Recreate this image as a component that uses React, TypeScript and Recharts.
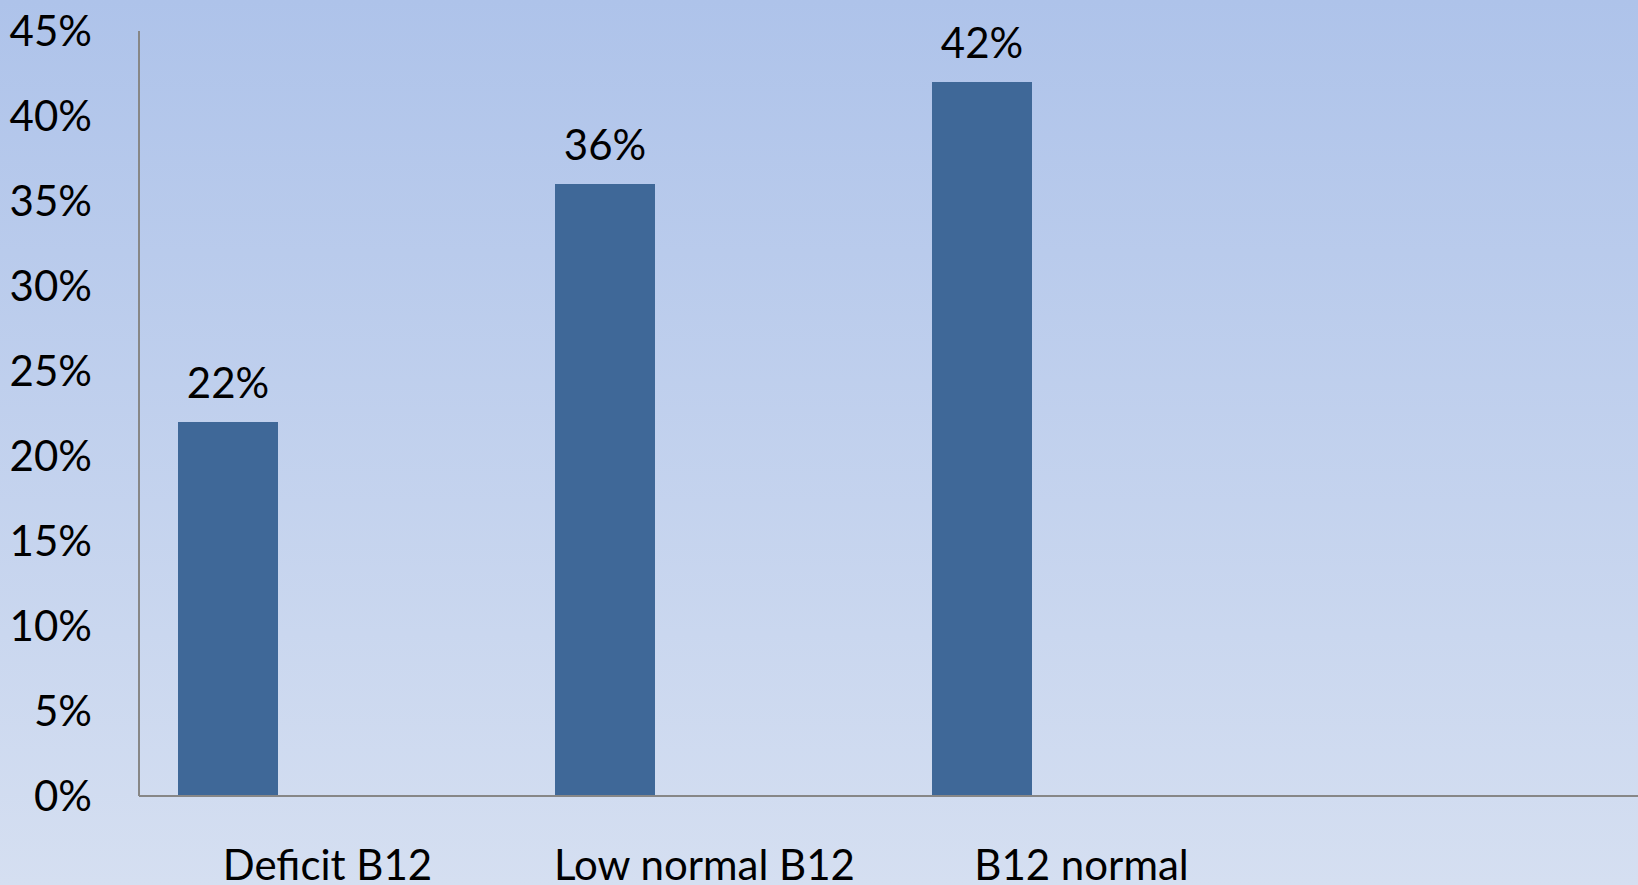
import { BarChart, Bar, XAxis, YAxis, LabelList } from 'recharts'

const categories = ['Deficit B12', 'Low normal B12', 'B12 normal', '']
const shareValues = [0.22, 0.36, 0.42, null]
const yTicks = [0, 0.05, 0.1, 0.15, 0.2, 0.25, 0.3, 0.35, 0.4, 0.45]

const FONT = 'Lato, "Open Sans", sans-serif'

const pct = (v: any) => (v == null ? '' : `${Math.round(Number(v) * 100)}%`)

export default function App() {
  const data = categories.map((name, i) => ({
    name,
    share: shareValues[i],
    s2: null,
    s3: null,
  }))

  return (
    <div
      style={{
        position: 'fixed',
        top: 0,
        left: 0,
        width: 1638,
        height: 885,
        overflow: 'hidden',
        background: 'linear-gradient(to bottom, #aec3ea, #d5dff1)',
      }}
    >
      <BarChart
        width={1660}
        height={885}
        data={data}
        margin={{ top: 31, right: 13, bottom: 0, left: 0 }}
        barCategoryGap={39}
        barGap={0}
      >
        <XAxis
          dataKey="name"
          height={89}
          axisLine={{ stroke: '#878787', strokeWidth: 2 }}
          tickLine={false}
          tickSize={0}
          tickMargin={54}
          interval={0}
          tick={{ fill: '#000', fontSize: 42, fontFamily: FONT }}
        />
        <YAxis
          width={139}
          domain={[0, 0.45]}
          ticks={yTicks}
          tickFormatter={pct}
          axisLine={{ stroke: '#878787', strokeWidth: 2 }}
          tickLine={false}
          tickSize={0}
          tickMargin={47}
          tick={{ fill: '#000', fontSize: 42, fontFamily: FONT }}
        />
        <Bar dataKey="share" fill="#3f6898" isAnimationActive={false}>
          <LabelList
            dataKey="share"
            position="top"
            offset={24}
            formatter={pct}
            style={{ fill: '#000', fontSize: 42, fontFamily: FONT }}
          />
        </Bar>
        <Bar dataKey="s2" fill="#3f6898" isAnimationActive={false} />
        <Bar dataKey="s3" fill="#3f6898" isAnimationActive={false} />
      </BarChart>
    </div>
  )
}
